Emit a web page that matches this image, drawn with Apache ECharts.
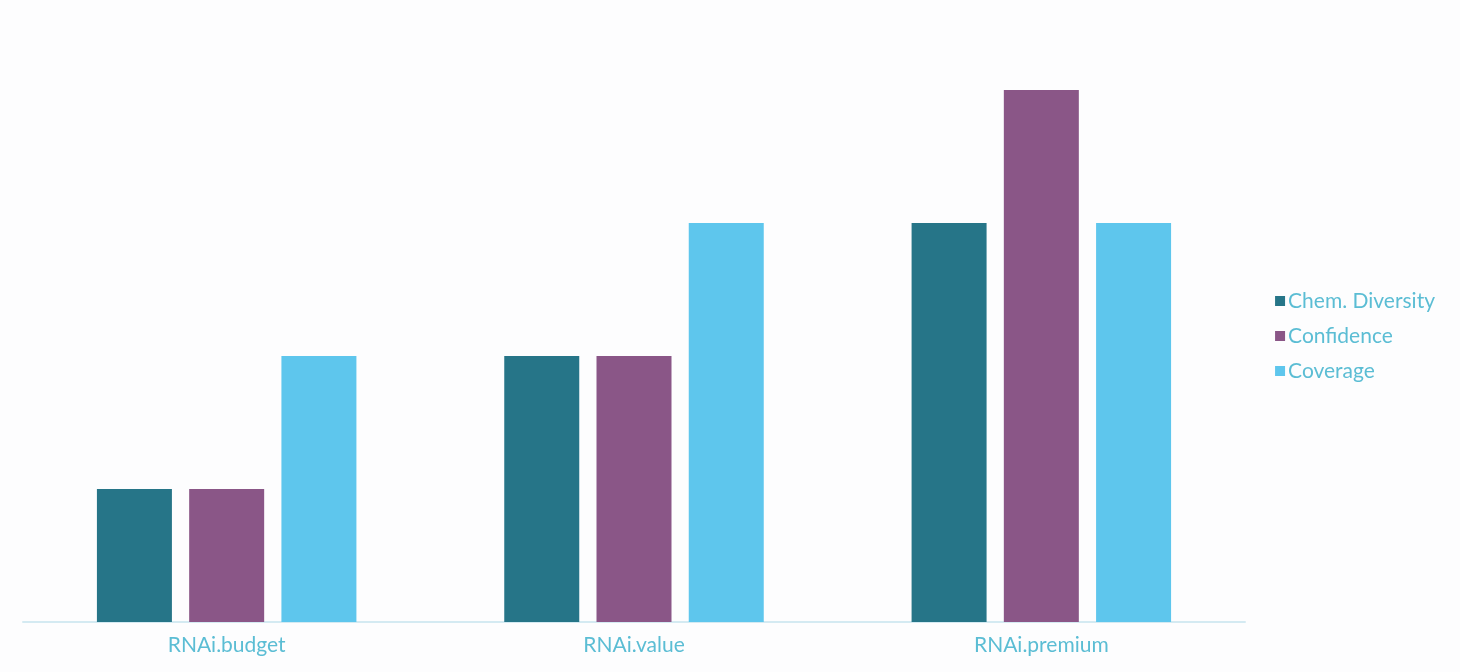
<!DOCTYPE html>
<html>
<head>
<meta charset="utf-8">
<script src="https://cdn.jsdelivr.net/npm/echarts@6/dist/echarts.min.js"></script>
<style>
html,body{margin:0;padding:0;background:#fdfdfe;}
#chart{width:1460px;height:672px;}
</style>
</head>
<body>
<div id="chart"></div>
<script>
const categories = ['RNAi.budget', 'RNAi.value', 'RNAi.premium'];
const seriesNames = ['Chem. Diversity', 'Confidence', 'Coverage'];
const chemDiversity = [1, 2, 3];
const confidence = [1, 2, 4];
const coverage = [2, 3, 3];
const colors = ['#267588', '#8a5687', '#5ec6ed'];

const chart = echarts.init(document.getElementById('chart'));
const values = [chemDiversity, confidence, coverage];
chart.setOption({
  backgroundColor: '#fdfdfe',
  animation: false,
  color: colors,
  textStyle: { fontFamily: 'Lato' },
  grid: { left: 23, right: 215, top: 90, bottom: 50 },
  legend: {
    orient: 'vertical',
    right: 20,
    top: 'middle',
    itemWidth: 10,
    itemHeight: 10,
    itemGap: 14,
    icon: 'rect',
    textStyle: { color: '#5bbdd4', fontSize: 21, fontFamily: 'Lato', padding: [0,0,0,-2] },
    data: seriesNames
  },
  xAxis: {
    type: 'category',
    data: categories,
    axisLine: { lineStyle: { color: '#d4eaf2', width: 2 } },
    axisTick: { show: false },
    axisLabel: { color: '#5bbdd4', fontSize: 21, margin: 13 }
  },
  yAxis: {
    type: 'value',
    min: 0,
    max: 4,
    show: false,
    splitLine: { show: false }
  },
  series: seriesNames.map((n, i) => ({
    name: n,
    type: 'bar',
    data: values[i],
    barWidth: 75,
    barGap: '23%',
    itemStyle: { color: colors[i] }
  }))
});
</script>
</body>
</html>
